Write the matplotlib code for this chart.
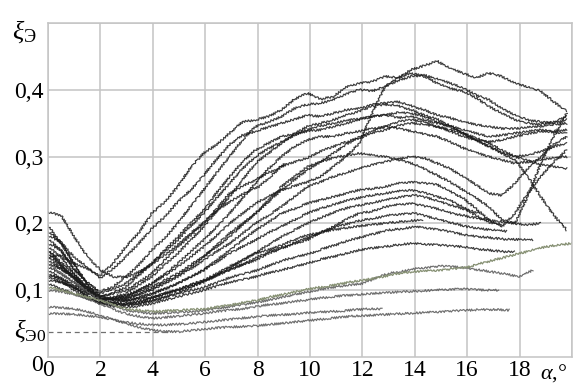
import numpy as np
import matplotlib
matplotlib.use("Agg")
import matplotlib.pyplot as plt

# --- данные кривых (значения ξЭ, шаг по α ~0.5°) ---
t1 = [.150, .152, .140, .133, .122, .140, .165, .186, .215, .232, .255, .284, .305, .318, .335, .352, .355, .360, .370, .386,
      .395, .386, .390, .404, .410, .412, .420, .418, .430, .436, .443, .432, .425, .418, .425, .420, .410, .404, .398, .382, .368]
t2 = [.177, .160, .132, .112, .098, .105, .120, .138, .160, .178, .200, .226, .250, .276, .300, .325, .345, .352, .360, .372,
      .378, .380, .385, .394, .400, .398, .405, .414, .420, .422, .416, .410, .403, .392, .385, .372, .362, .355, .352, .350, .355]
u1 = [.182, .172, .150, .135, .118, .132, .150, .170, .192, .210, .232, .250, .272, .296, .318, .332, .338, .344, .350, .356,
      .362, .360, .365, .370, .372, .378, .380, .382, .376, .370, .362, .358, .352, .348, .345, .342, .342, .344, .345, .348, .350]
j1 = [.135, .125, .112, .098, .085, .088, .092, .100, .110, .122, .135, .150, .165, .182, .200, .215, .230, .240, .250, .256,
      .262, .270, .285, .300, .320, .365, .405, .418, .425, .420, .410, .402, .398, .388, .375, .365, .355, .350, .348, .352, .360]
u3 = [.160, .142, .125, .105, .085, .090, .095, .108, .120, .138, .155, .175, .195, .218, .240, .265, .290, .305, .320, .334,
      .345, .350, .355, .362, .368, .375, .378, .376, .370, .362, .356, .346, .335, .325, .315, .306, .300, .302, .308, .315, .320]
d1 = [.170, .160, .132, .112, .095, .102, .110, .125, .140, .158, .175, .196, .215, .238, .260, .282, .300, .312, .322, .332,
      .340, .346, .350, .354, .357, .360, .362, .366, .365, .360, .352, .344, .335, .325, .315, .305, .295, .270, .240, .212, .190]
u2 = [.140, .132, .120, .104, .090, .096, .105, .122, .140, .160, .180, .200, .220, .246, .270, .292, .310, .320, .330, .334,
      .338, .340, .345, .350, .355, .360, .362, .358, .360, .355, .350, .346, .340, .335, .330, .332, .335, .338, .340, .338, .340]
u4 = [.122, .118, .108, .098, .085, .088, .092, .100, .110, .124, .140, .158, .175, .195, .215, .238, .260, .282, .300, .315,
      .325, .330, .330, .335, .338, .342, .345, .342, .338, .334, .330, .322, .313, .306, .300, .295, .290, .292, .295, .298, .300]
u5 = [.145, .132, .118, .102, .090, .095, .100, .112, .125, .145, .165, .182, .200, .222, .245, .256, .265, .276, .285, .292,
      .298, .308, .315, .322, .328, .335, .340, .346, .350, .348, .345, .340, .335, .328, .320, .310, .300, .294, .288, .285, .282]
n1 = [.115, .112, .104, .096, .088, .086, .088, .094, .102, .112, .122, .135, .150, .165, .180, .198, .215, .232, .250, .265,
      .280, .292, .305, .318, .330, .338, .345, .352, .355, .352, .345, .338, .330, .325, .322, .325, .330, .334, .338, .336, .335]
v1 = [.155, .138, .120, .100, .085, .088, .090, .098, .105, .115, .125, .138, .150, .168, .185, .200, .215, .235, .255, .270,
      .285, .292, .298, .302, .305, .302, .300, .295, .290, .282, .272, .262, .250, .238, .225, .205, .200, .240, .290, .330, .365]
v2 = [.120, .112, .105, .092, .080, .082, .085, .090, .095, .102, .110, .120, .130, .145, .160, .175, .190, .202, .215, .222,
      .230, .235, .240, .245, .250, .252, .255, .260, .262, .260, .258, .248, .238, .222, .205, .195, .215, .245, .270, .292, .310]
v3 = [.197, .170, .140, .110, .088, .086, .088, .094, .100, .110, .120, .132, .145, .158, .170, .185, .200, .212, .225, .240,
      .255, .262, .270, .276, .282, .288, .292, .296, .300, .298, .290, .282, .270, .258, .245, .242, .260, .282, .300, .318, .330]
s9 = [.217, .212, .180, .150, .130, .120, .120, .128, .140, .155, .170, .188, .205, .222, .235, .246, .255, .272, .290]
m1 = [.150, .135, .122, .106, .092, .086, .084, .088, .094, .102, .110, .120, .130, .142, .155, .165, .175, .186, .195, .205,
      .215, .222, .228, .234, .238, .242, .245, .248, .250, .246, .240, .235, .225, .212, .202, .198]
n2 = [.165, .150, .125, .102, .086, .080, .078, .080, .084, .090, .097, .105, .114, .124, .135, .146, .158, .170, .182, .192,
      .202, .210, .218, .224, .228, .232, .236, .240, .242, .238, .232, .226, .220, .215]
e1 = [.160, .138, .118, .100, .085, .082, .080, .083, .088, .095, .100, .106, .112, .122, .130, .138, .145, .155, .162, .170,
      .175, .186, .195, .206, .215, .218, .225, .228, .230, .226, .222, .216, .212, .208, .205, .202, .200, .198, .200]
e2 = [.125, .115, .100, .090, .080, .078, .078, .080, .085, .090, .095, .100, .105, .112, .120, .125, .130, .138, .145, .150,
      .155, .162, .168, .175, .180, .185, .190, .192, .195, .193, .190, .186, .182, .180, .178, .176, .176, .175]
e3 = [.130, .118, .105, .092, .080, .076, .075, .076, .080, .085, .090, .095, .100, .106, .112, .116, .120, .126, .130, .135,
      .140, .146, .150, .155, .160, .163, .165, .168, .170, .169, .168, .166, .165, .162, .160, .158, .157]
ma = [.188, .172, .140, .108, .090, .086, .085, .087, .090, .096, .102, .108, .115, .124, .132, .140, .150, .158, .165, .172,
      .180, .188, .195, .200, .205, .208, .212, .214, .215, .210, .205, .200, .195, .192, .190, .188]
mb = [.110, .102, .095, .088, .082, .080, .080, .083, .088, .094, .100, .108, .115, .124, .135, .145, .155, .160, .167, .175,
      .182, .186, .190, .193, .196, .198, .200, .202, .204, .205]
g1 = [.105, .100, .095, .090, .085, .078, .072, .070, .068, .069, .070, .071, .072, .075, .078, .082, .085, .090, .094, .098,
      .102, .105, .108, .112, .115, .118, .122, .126, .128, .129, .130, .132, .134, .140, .145, .150, .155, .160, .165, .168, .170]
e4 = [.140, .125, .112, .098, .085, .078, .070, .067, .065, .066, .067, .068, .070, .073, .076, .079, .082, .086, .090, .094,
      .098, .102, .105, .108, .110, .118, .125, .128, .132, .134, .136, .135, .133, .130, .127, .124, .120, .130]
e5 = [.100, .098, .094, .088, .080, .072, .065, .061, .058, .059, .061, .063, .065, .068, .070, .072, .075, .078, .080, .083,
      .085, .088, .090, .092, .093, .095, .096, .097, .098, .099, .100, .101, .102, .101, .100, .100]
e6 = [.075, .074, .072, .068, .062, .056, .050, .044, .040, .038, .038, .040, .042, .044, .045, .046, .047, .049, .051, .053,
      .055, .057, .059, .061, .062, .063, .064, .065, .066, .067, .068, .069, .070, .071, .071, .070]
e7 = [.065, .065, .064, .062, .060, .056, .052, .050, .048, .048, .049, .050, .052, .054, .056, .058, .060, .062, .063, .064,
      .066, .067, .068, .069, .071, .072, .072]

dark_curves = [t1, t2, u1, j1, u3, d1, u2, u4, u5, n1, v1, v2, v3, s9, m1, n2, e1, e2, e3, ma, mb]
dark_ends = [19.8, 19.8, 19.8, 19.8, 19.8, 19.8, 19.8, 19.8, 19.8, 19.8, 19.8, 19.8, 19.8, 9.05, 17.3, 16.5,
             18.8, 18.5, 17.8, 17.5, 14.3]
light_curves = [e4, e5, e6, e7]
light_ends = [18.5, 17.2, 17.6, 12.75]
green_curve = g1
green_end = 20.0

xi_e0 = 0.038
x_ticks = [0, 2, 4, 6, 8, 10, 12, 14, 16, 18]
y_ticks = [0.1, 0.2, 0.3, 0.4]
y_labels = ['0,1', '0,2', '0,3', '0,4']

plt.rcParams['font.family'] = ['Liberation Serif', 'DejaVu Serif']
plt.rcParams['mathtext.fontset'] = 'custom'
plt.rcParams['mathtext.rm'] = 'Liberation Serif'
plt.rcParams['mathtext.it'] = 'Liberation Serif:italic'

fig = plt.figure(figsize=(5.75, 3.85), dpi=100)
ax = fig.add_axes([48 / 575, 1 - 357 / 385, 524 / 575, 334 / 385])

# шероховатость линий (как у записанных сигналов)
sketch = dict(scale=1.1, length=3.0, randomness=2.0)

for vals, end in zip(dark_curves, dark_ends):
    ln, = ax.plot(np.linspace(0, end, len(vals)), vals, color='#1a1a1a', lw=0.85, alpha=0.85)
    ln.set_sketch_params(**sketch)
for vals, end in zip(light_curves, light_ends):
    ln, = ax.plot(np.linspace(0, end, len(vals)), vals, color='#5e5e5e', lw=0.85, alpha=0.9)
    ln.set_sketch_params(**sketch)
ln, = ax.plot(np.linspace(0, green_end, len(green_curve)), green_curve, color='#858f72', lw=0.9)
ln.set_sketch_params(**sketch)

ax.plot([0, 4.6], [xi_e0, xi_e0], color='#707070', lw=0.9, ls=(0, (4, 3)))

ax.set_xlim(0, 20)
ax.set_ylim(0, 0.5)
ax.set_xticks(x_ticks + [20])
ax.set_xticklabels([str(v) for v in x_ticks] + [''])
ax.set_yticks(y_ticks + [0.5])
ax.set_yticklabels(y_labels + [''])
ax.tick_params(length=0, labelsize=17, pad=3)
ax.tick_params(axis='x', pad=2)
ax.grid(True, color='#c4c4c4', lw=1.1)
for s in ax.spines.values():
    s.set_color('#c4c4c4')
    s.set_linewidth(1.1)

ax.text(-0.2, -0.012, '0', fontsize=17, ha='right', va='center')
ax.text(-0.08, xi_e0 + 0.002, r'$\xi_{\mathrm{Э0}}$', fontsize=18, ha='right', va='center')
ax.text(-0.45, 0.487, r'$\xi_{\mathrm{Э}}$', fontsize=19, ha='right', va='center')
ax.text(19.3, -0.033, r'$\alpha$,°', fontsize=16, ha='center', va='baseline')

fig.savefig('out.png', dpi=100)
